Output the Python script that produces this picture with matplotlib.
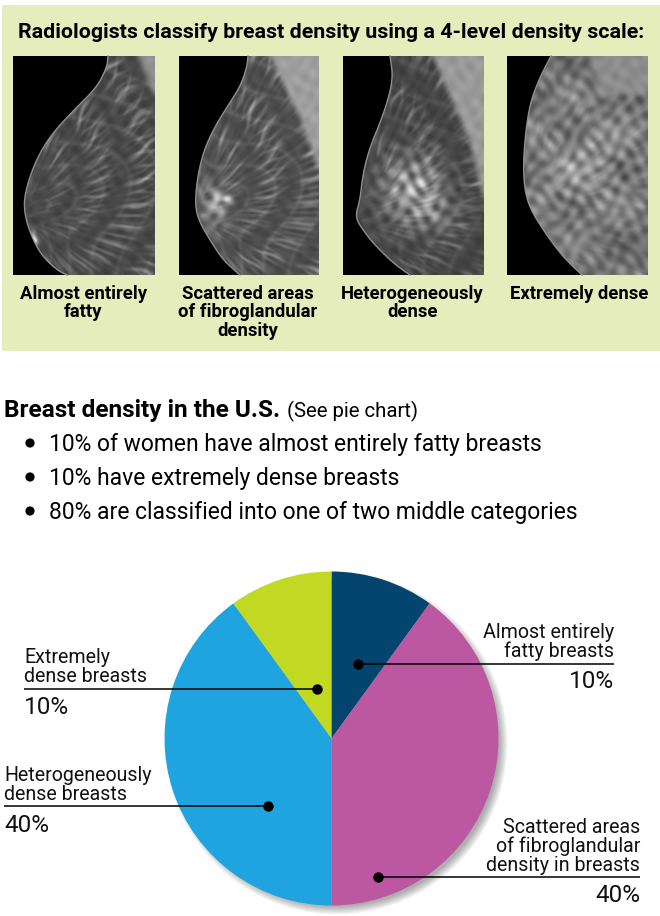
import numpy as np
import matplotlib
matplotlib.use("Agg")
import matplotlib.pyplot as plt
from matplotlib.path import Path
from matplotlib.patches import Rectangle, Circle

W, H = 660, 916

# pie data
pie_labels = ["Almost entirely fatty breasts", "Scattered areas of fibroglandular density in breasts",
              "Heterogeneously dense breasts", "Extremely dense breasts"]
pie_values = [10, 40, 40, 10]
pie_colors = ["#04456f", "#bb58a1", "#1fa4df", "#c2d923"]

title = "Radiologists classify breast density using a 4-level density scale:"
captions = ["Almost entirely\nfatty", "Scattered areas\nof fibroglandular\ndensity",
            "Heterogeneously\ndense", "Extremely dense"]
bullets = ["10% of women have almost entirely fatty breasts",
           "10% have extremely dense breasts",
           "80% are classified into one of two middle categories"]

FONT = ["Roboto", "DejaVu Sans"]

# image boxes, px
boxes = [(13, 56, 155, 275), (179, 56, 319, 275), (343, 56, 484, 275), (507, 56, 648, 275)]

# breast outlines in px
outlines = [
    [(108, 56), (107, 67), (97, 87), (77, 107), (57, 128), (43, 147), (32, 170), (24, 197), (25, 217), (33, 240), (43, 257), (57, 270), (67, 275)],
    [(248, 56), (247, 67), (240, 87), (227, 107), (213, 130), (203, 153), (197, 180), (195, 207), (200, 223), (210, 240), (223, 260), (240, 275)],
    [(390, 56), (393, 77), (388, 100), (380, 123), (370, 147), (363, 173), (360, 200), (355, 217), (363, 230), (373, 243), (393, 263), (410, 275)],
    [(551, 56), (540, 77), (530, 103), (525, 137), (523, 173), (527, 203), (543, 230), (563, 257), (582, 275)],
]
# lighter chest muscle in the top right of each film
muscles = [
    [(138, 56), (155, 56), (155, 97)],
    [(270, 56), (319, 56), (319, 170), (300, 117)],
    [(433, 56), (484, 56), (484, 200), (470, 143)],
    [(590, 56), (648, 56), (648, 93), (603, 97)],
]
muscle_grey = [0.56, 0.62, 0.60, 0.55]
nipples = [(20, 215), (192, 215), (352, 220), (520, 215)]
base_grey = [0.27, 0.29, 0.26, 0.44]
fibre_amt = [0.26, 0.28, 0.18, 0.06]
# bright dense areas: x, y, rx, ry, strength
blobs = [
    [(33, 240, 4, 6, 0.9)],
    [(214, 205, 15, 24, 0.30), (222, 200, 8, 4, 0.4)],
    [(412, 190, 30, 34, 0.42), (440, 215, 18, 20, 0.15)],
    [(575, 170, 45, 50, 0.12), (610, 150, 25, 40, 0.05)],
]


def smooth_line(points, rounds=3):
    # corner cutting so the skin line is not a polygon
    p = np.array(points, dtype=float)
    for _ in range(rounds):
        q = 0.75 * p[:-1] + 0.25 * p[1:]
        s = 0.25 * p[:-1] + 0.75 * p[1:]
        mid = np.empty((2 * len(q), 2))
        mid[0::2] = q
        mid[1::2] = s
        p = np.vstack([p[0], mid, p[-1]])
    return p


def box_blur(a, n=2):
    out = a.copy()
    for axis in (0, 1):
        kernel = np.ones(2 * n + 1) / (2 * n + 1)
        out = np.apply_along_axis(lambda v: np.convolve(np.pad(v, n, mode="edge"), kernel, "valid"), axis, out)
    return out


def film(i):
    x0, y0, x1, y1 = boxes[i]
    xx, yy = np.meshgrid(np.arange(x0, x1) + 0.5, np.arange(y0, y1) + 0.5)
    pts = np.c_[xx.ravel(), yy.ravel()]
    corner = np.vstack([smooth_line(outlines[i]), [(x1, y1), (x1, y0)]])
    inside = Path(corner).contains_points(pts).reshape(xx.shape)
    muscle = Path(muscles[i]).contains_points(pts).reshape(xx.shape).astype(float)
    muscle = box_blur(muscle, 3)

    # streaks fanning out of the nipple, warped sines and no noise
    nx, ny = nipples[i]
    rho = np.hypot(xx - nx, yy - ny)
    th = np.arctan2(yy - ny, xx - nx)
    warp = 0.6 * np.sin(rho / 19.0 + i) + 0.3 * np.sin(rho / 7.0 + 3 * th)
    fib = np.abs(np.sin(17 * th + warp)) ** 30 + 0.8 * np.abs(np.sin(31 * th - 1.3 * warp + 1)) ** 30 \
        + 0.6 * np.abs(np.sin(47 * th + 2 * warp + 2)) ** 20
    fib = fib * (0.55 + 0.45 * np.sin(rho / 8.0 + 7 * th)) * (1 - np.exp(-rho / 35.0))
    arcs = np.abs(np.sin(rho / 9.0 + 2 * np.sin(th * 4))) ** 30
    mott = np.sin(xx / 3.1 + np.sin(yy / 9.0)) * np.sin(yy / 3.7 + np.sin(xx / 7.0)) \
        + 0.6 * np.sin((xx + yy) / 7.0) * np.cos((xx - yy) / 3.3)

    g = base_grey[i] + fibre_amt[i] * (fib + 0.25 * arcs) * 0.9 + 0.025 * mott
    if i == 3:
        g += 0.06 * mott + 0.07 * np.sin(xx / 15.0 + 1) * np.sin(yy / 12.0)
    for bx, by, rx, ry, amp in blobs[i]:
        d = ((xx - bx) / rx) ** 2 + ((yy - by) / ry) ** 2
        g += amp * np.exp(-d) * (0.8 + 0.5 * mott)
    g = g * (1 - muscle) + (muscle_grey[i] + 0.03 * mott) * muscle
    g = box_blur(g, 1)
    g = np.where(inside, g, 0.0)
    return np.clip(g, 0, 1)


fig = plt.figure(figsize=(W / 100, H / 100), dpi=100, facecolor="white")
bg = fig.add_axes([0, 0, 1, 1], zorder=0)
bg.axis("off")

bg.add_patch(Rectangle((2, 5), W - 2, 346, fc="#e5edbc", ec="none"))
bg.text(331, 32, title, ha="center", va="center", family=FONT, weight="bold", fontsize=15.4)

for i in range(4):
    x0, y0, x1, y1 = boxes[i]
    bg.imshow(film(i), cmap="gray", vmin=0, vmax=1, extent=(x0, x1, y1, y0),
              interpolation="bilinear", aspect="auto", zorder=2)
    line = smooth_line(outlines[i])
    bg.plot(line[:, 0], line[:, 1], color="#8f8f8f", lw=1.0, zorder=3)
    bg.text((x0 + x1) / 2 - (1 if i != 3 else -2), 285, captions[i], ha="center", va="top", family=FONT,
            weight="bold", fontsize=13.3, linespacing=1.02)
bg.set_xlim(0, W)
bg.set_ylim(H, 0)

bg.text(4, 411, "Breast density in the U.S.", va="center", family=FONT, weight="bold", fontsize=17.6)
bg.text(287, 411, "(See pie chart)", va="center", family=FONT, fontsize=14.7)
for y, b in zip([444, 478, 512], bullets):
    bg.add_patch(Circle((30, y - 1), 4.6, fc="black", ec="none"))
    bg.text(49, y, b, va="center", family=FONT, fontsize=16.5)

# soft shadow under the pie, lower right only
cx, cy, r = 331.5, 738.5, 167
for k in range(9):
    bg.add_patch(Circle((cx + 5, cy + 5), r + 4 - k, fc="black", ec="none", alpha=0.04))

ax = fig.add_axes([(cx - r) / W, 1 - (cy + r) / H, 2 * r / W, 2 * r / H], zorder=1)
ax.pie(pie_values, colors=pie_colors, startangle=90, counterclock=False, radius=1,
       wedgeprops={"linewidth": 0})
ax.set_xlim(-1, 1)
ax.set_ylim(-1, 1)

top = fig.add_axes([0, 0, 1, 1], zorder=2)
top.set_xlim(0, W)
top.set_ylim(H, 0)
top.axis("off")
top.patch.set_alpha(0)

# label lines: line start, line end, dot x, y
leaders = [(358, 614, 358, 664), (24, 317, 317, 689), (4, 268, 268, 806), (378, 640, 378, 877)]
for a, b, dx, y in leaders:
    top.plot([a, b], [y, y], color="black", lw=1.1, solid_capstyle="butt")
    top.plot([dx], [y], "o", color="black", ms=7.5, mew=0)

lab = dict(family=FONT, fontsize=14.1, linespacing=0.98, color="#111111")
pct = dict(family=FONT, fontsize=17.5, color="#111111", va="center")
top.text(614, 661, "Almost entirely\nfatty breasts", ha="right", va="bottom", **lab)
top.text(614, 682, "%d%%" % pie_values[0], ha="right", **pct)
top.text(24, 686, "Extremely\ndense breasts", ha="left", va="bottom", **lab)
top.text(24, 708, "%d%%" % pie_values[3], ha="left", **pct)
top.text(4, 804, "Heterogeneously\ndense breasts", ha="left", va="bottom", **lab)
top.text(4, 825, "%d%%" % pie_values[2], ha="left", **pct)
top.text(640, 875, "Scattered areas\nof fibroglandular\ndensity in breasts", ha="right", va="bottom", **lab)
top.text(640, 896, "%d%%" % pie_values[1], ha="right", **pct)

fig.savefig("out.png", dpi=100)
